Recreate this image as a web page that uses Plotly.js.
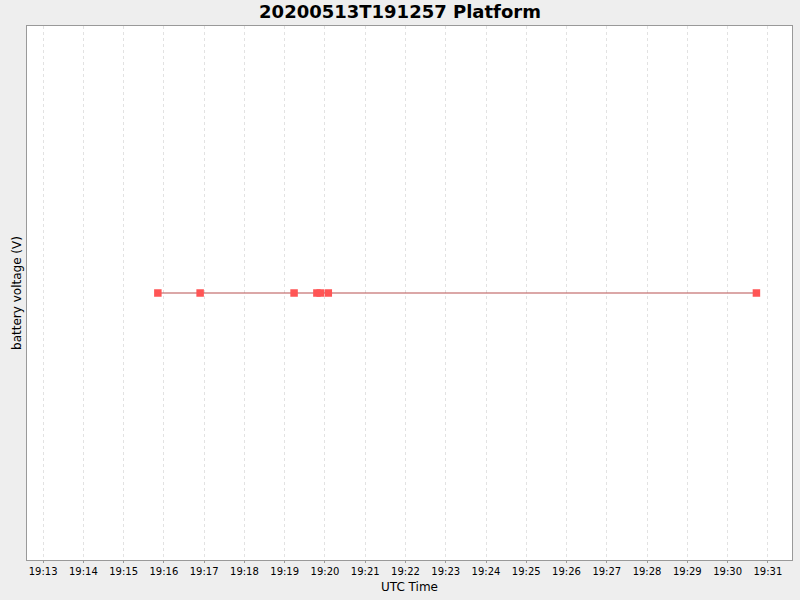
<!DOCTYPE html>
<html>
<head>
<meta charset="utf-8">
<script src="https://cdn.plot.ly/plotly-3.0.1.min.js"></script>
<style>html,body{margin:0;padding:0;background:#eeeeee;}#chart{width:800px;height:600px;}</style>
</head>
<body>
<div id="chart"></div>
<script>
const times = [
  "2020-05-13 19:15:51",
  "2020-05-13 19:16:54",
  "2020-05-13 19:19:14",
  "2020-05-13 19:19:48",
  "2020-05-13 19:19:53",
  "2020-05-13 19:20:05",
  "2020-05-13 19:30:43"
];
const voltage = [12.6, 12.6, 12.6, 12.6, 12.6, 12.6, 12.6];
const xRange = ["2020-05-13 19:12:36", "2020-05-13 19:31:36"];
const yRange = [11.6, 13.6];

const trace = {
  x: times, y: voltage, type: "scatter", mode: "lines+markers",
  line: {color: "#b85050", width: 1.2},
  marker: {symbol: "square", size: 7.5, color: "#ff5555"},
  hoverinfo: "skip"
};
const layout = {
  width: 800, height: 600,
  paper_bgcolor: "#eeeeee", plot_bgcolor: "#ffffff",
  margin: {l: 27, r: 8, t: 26, b: 40},
  showlegend: false,
  title: {text: "<b>20200513T191257 Platform</b>", x: 0.5, xanchor: "center", y: 0.98, yanchor: "middle",
    font: {family: "DejaVu Sans", size: 18, color: "#000000"}},
  xaxis: {
    type: "date", range: xRange, tickformat: "%H:%M", dtick: 60000, tick0: "2020-05-13 19:13:00",
    showgrid: true, gridcolor: "#e2e2e2", griddash: "3px,3px", gridwidth: 1,
    showline: true, linecolor: "#999999", linewidth: 1, mirror: true,
    ticks: "outside", ticklen: 2, tickcolor: "#999999",
    tickfont: {family: "DejaVu Sans", size: 10, color: "#000000"},
    zeroline: false,
    title: {text: "UTC Time", font: {family: "DejaVu Sans", size: 12, color: "#000000"}, standoff: 6}
  },
  yaxis: {
    range: yRange, showticklabels: false, showgrid: false, zeroline: false,
    showline: true, linecolor: "#999999", linewidth: 1, mirror: true, ticks: "",
    title: {text: "battery voltage (V)", font: {family: "DejaVu Sans", size: 12, color: "#000000"}, standoff: 1}
  }
};
Plotly.newPlot("chart", [trace], layout, {displayModeBar: false, staticPlot: true});
</script>
</body>
</html>
